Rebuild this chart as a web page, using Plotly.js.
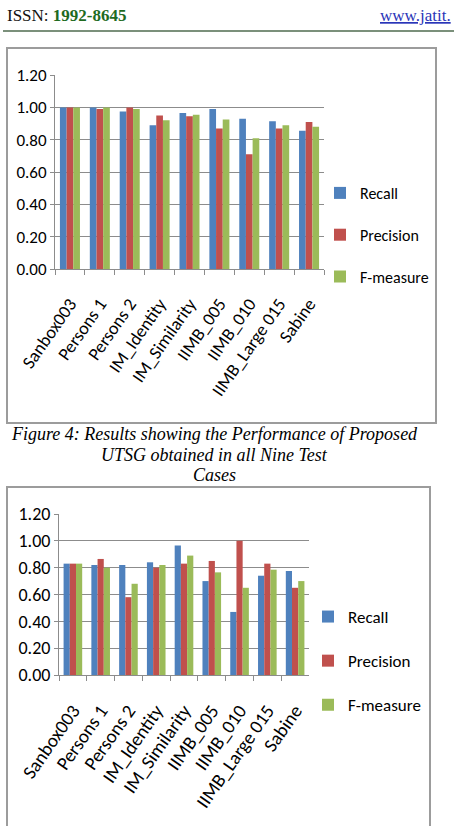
<!DOCTYPE html>
<html>
<head>
<meta charset="utf-8">
<script src="https://cdn.plot.ly/plotly-3.0.1.min.js"></script>
<style>html,body{margin:0;padding:0;background:#fff;overflow:hidden}#chart{width:454px;height:826px}</style>
</head>
<body>
<div id="chart"></div>
<script>
const categories = ['Sanbox003','Persons 1','Persons 2','IM_Identity','IM_Similarity','IIMB_005','IIMB_010','IIMB_Large 015','Sabine'];
const seriesNames = ['Recall','Precision','F-measure'];
const recall1 = [1.00,1.00,0.975,0.89,0.965,0.99,0.93,0.915,0.855];
const precision1 = [1.00,0.99,1.00,0.95,0.945,0.87,0.71,0.87,0.91];
const fmeasure1 = [1.00,1.00,0.99,0.92,0.955,0.925,0.81,0.89,0.88];
const recall2 = [0.83,0.82,0.82,0.84,0.965,0.70,0.47,0.74,0.775];
const precision2 = [0.83,0.865,0.58,0.80,0.83,0.85,1.00,0.83,0.65];
const fmeasure2 = [0.83,0.80,0.68,0.82,0.89,0.765,0.65,0.785,0.70];
const yTickVals = [0,0.2,0.4,0.6,0.8,1.0,1.2];
const yTickText = ['0.00','0.20','0.40','0.60','0.80','1.00','1.20'];

const colors = ['#4F81BD','#C0504D','#9BBB59'];
const narrow = 'Carlito, "Liberation Sans Narrow", Lato, "DejaVu Sans Condensed", sans-serif';
const W = 454, H = 826;
const px = v => v / W;
const py = v => 1 - v / H;

const traces = [];
[[recall1,precision1,fmeasure1],[recall2,precision2,fmeasure2]].forEach((set, ci) => {
  set.forEach((vals, si) => {
    traces.push({
      type: 'bar',
      name: seriesNames[si],
      x: categories,
      y: vals,
      marker: {color: colors[si], line: {width: 0}},
      xaxis: ci === 0 ? 'x' : 'x2',
      yaxis: ci === 0 ? 'y' : 'y2',
      legend: ci === 0 ? 'legend' : 'legend2',
      legendgroup: 'g' + ci + si,
      hoverinfo: 'skip'
    });
  });
});

function xa(domain, size) {
  return {
    domain: domain,
    showline: true, linecolor: '#8c8c8c', linewidth: 1,
    ticks: 'outside', tickson: 'boundaries', ticklen: 5, tickcolor: '#8c8c8c',
    tickangle: -55, tickfont: {family: narrow, size: size, color: '#000'},
    ticklabelstandoff: 16,
    showgrid: false, fixedrange: true
  };
}
function ya(domain, size) {
  return {
    domain: domain, range: [0, 1.2], tickvals: yTickVals, ticktext: yTickText,
    showline: true, linecolor: '#8c8c8c', linewidth: 1,
    ticks: 'outside', ticklen: 4, tickcolor: '#8c8c8c',
    showgrid: true, gridcolor: '#8c8c8c', gridwidth: 1,
    zeroline: false,
    tickfont: {family: narrow, size: size, color: '#000'},
    fixedrange: true
  };
}

const x1 = xa([px(55), px(324)], 18); x1.anchor = 'y';
const x2 = xa([px(59), px(309)], 19); x2.anchor = 'y2';
const y1 = ya([py(269.3), py(75)], 17); y1.anchor = 'x';
const y2 = ya([py(675), py(514)], 18); y2.anchor = 'x2';

const serif = '"Liberation Serif", "Times New Roman", serif';

const layout = {
  width: W, height: H, autosize: false,
  margin: {l: 0, r: 0, t: 0, b: 0, pad: 0},
  paper_bgcolor: '#fff', plot_bgcolor: '#fff',
  barmode: 'group', bargap: 0.33, bargroupgap: 0,
  xaxis: x1, yaxis: y1, xaxis2: x2, yaxis2: y2,
  legend: {
    x: px(320), y: py(176), xanchor: 'left', yanchor: 'top',
    font: {family: narrow, size: 16, color: '#000'},
    tracegroupgap: 18, traceorder: 'grouped', bgcolor: 'rgba(0,0,0,0)', borderwidth: 0
  },
  legend2: {
    x: px(308), y: py(599), xanchor: 'left', yanchor: 'top',
    font: {family: narrow, size: 17, color: '#000'},
    tracegroupgap: 19, traceorder: 'grouped', bgcolor: 'rgba(0,0,0,0)', borderwidth: 0
  },
  shapes: [
    {type: 'line', xref: 'paper', yref: 'paper', x0: px(3), x1: 1, y0: py(31), y1: py(31), line: {color: '#4f6b4f', width: 1.5}},
    {type: 'rect', xref: 'paper', yref: 'paper', x0: px(7), x1: px(436), y0: py(423), y1: py(48), line: {color: '#9c9c9c', width: 2}},
    {type: 'rect', xref: 'paper', yref: 'paper', x0: px(7), x1: px(430), y0: py(835), y1: py(487), line: {color: '#9c9c9c', width: 2}}
  ],
  annotations: [
    {xref: 'paper', yref: 'paper', x: px(5), y: py(16), xanchor: 'left', yanchor: 'middle', showarrow: false,
     text: 'ISSN: <b><span style="color:#1f6b1f">1992-8645</span></b>', font: {family: serif, size: 17, color: '#111'}},
    {xref: 'paper', yref: 'paper', x: px(453), y: py(16), xanchor: 'right', yanchor: 'middle', showarrow: false,
     text: '<span style="text-decoration:underline">www.jatit.</span>', font: {family: serif, size: 17, color: '#2a35b8'}},
    {xref: 'paper', yref: 'paper', x: px(214), y: py(434), xanchor: 'center', yanchor: 'middle', showarrow: false,
     text: '<i>Figure 4: Results showing the Performance of Proposed</i>', font: {family: serif, size: 18, color: '#000'}},
    {xref: 'paper', yref: 'paper', x: px(214), y: py(455), xanchor: 'center', yanchor: 'middle', showarrow: false,
     text: '<i>UTSG obtained in all Nine Test</i>', font: {family: serif, size: 18, color: '#000'}},
    {xref: 'paper', yref: 'paper', x: px(214), y: py(475), xanchor: 'center', yanchor: 'middle', showarrow: false,
     text: '<i>Cases</i>', font: {family: serif, size: 18, color: '#000'}}
  ]
};

Plotly.newPlot('chart', traces, layout, {displayModeBar: false, staticPlot: true});
</script>
</body>
</html>
